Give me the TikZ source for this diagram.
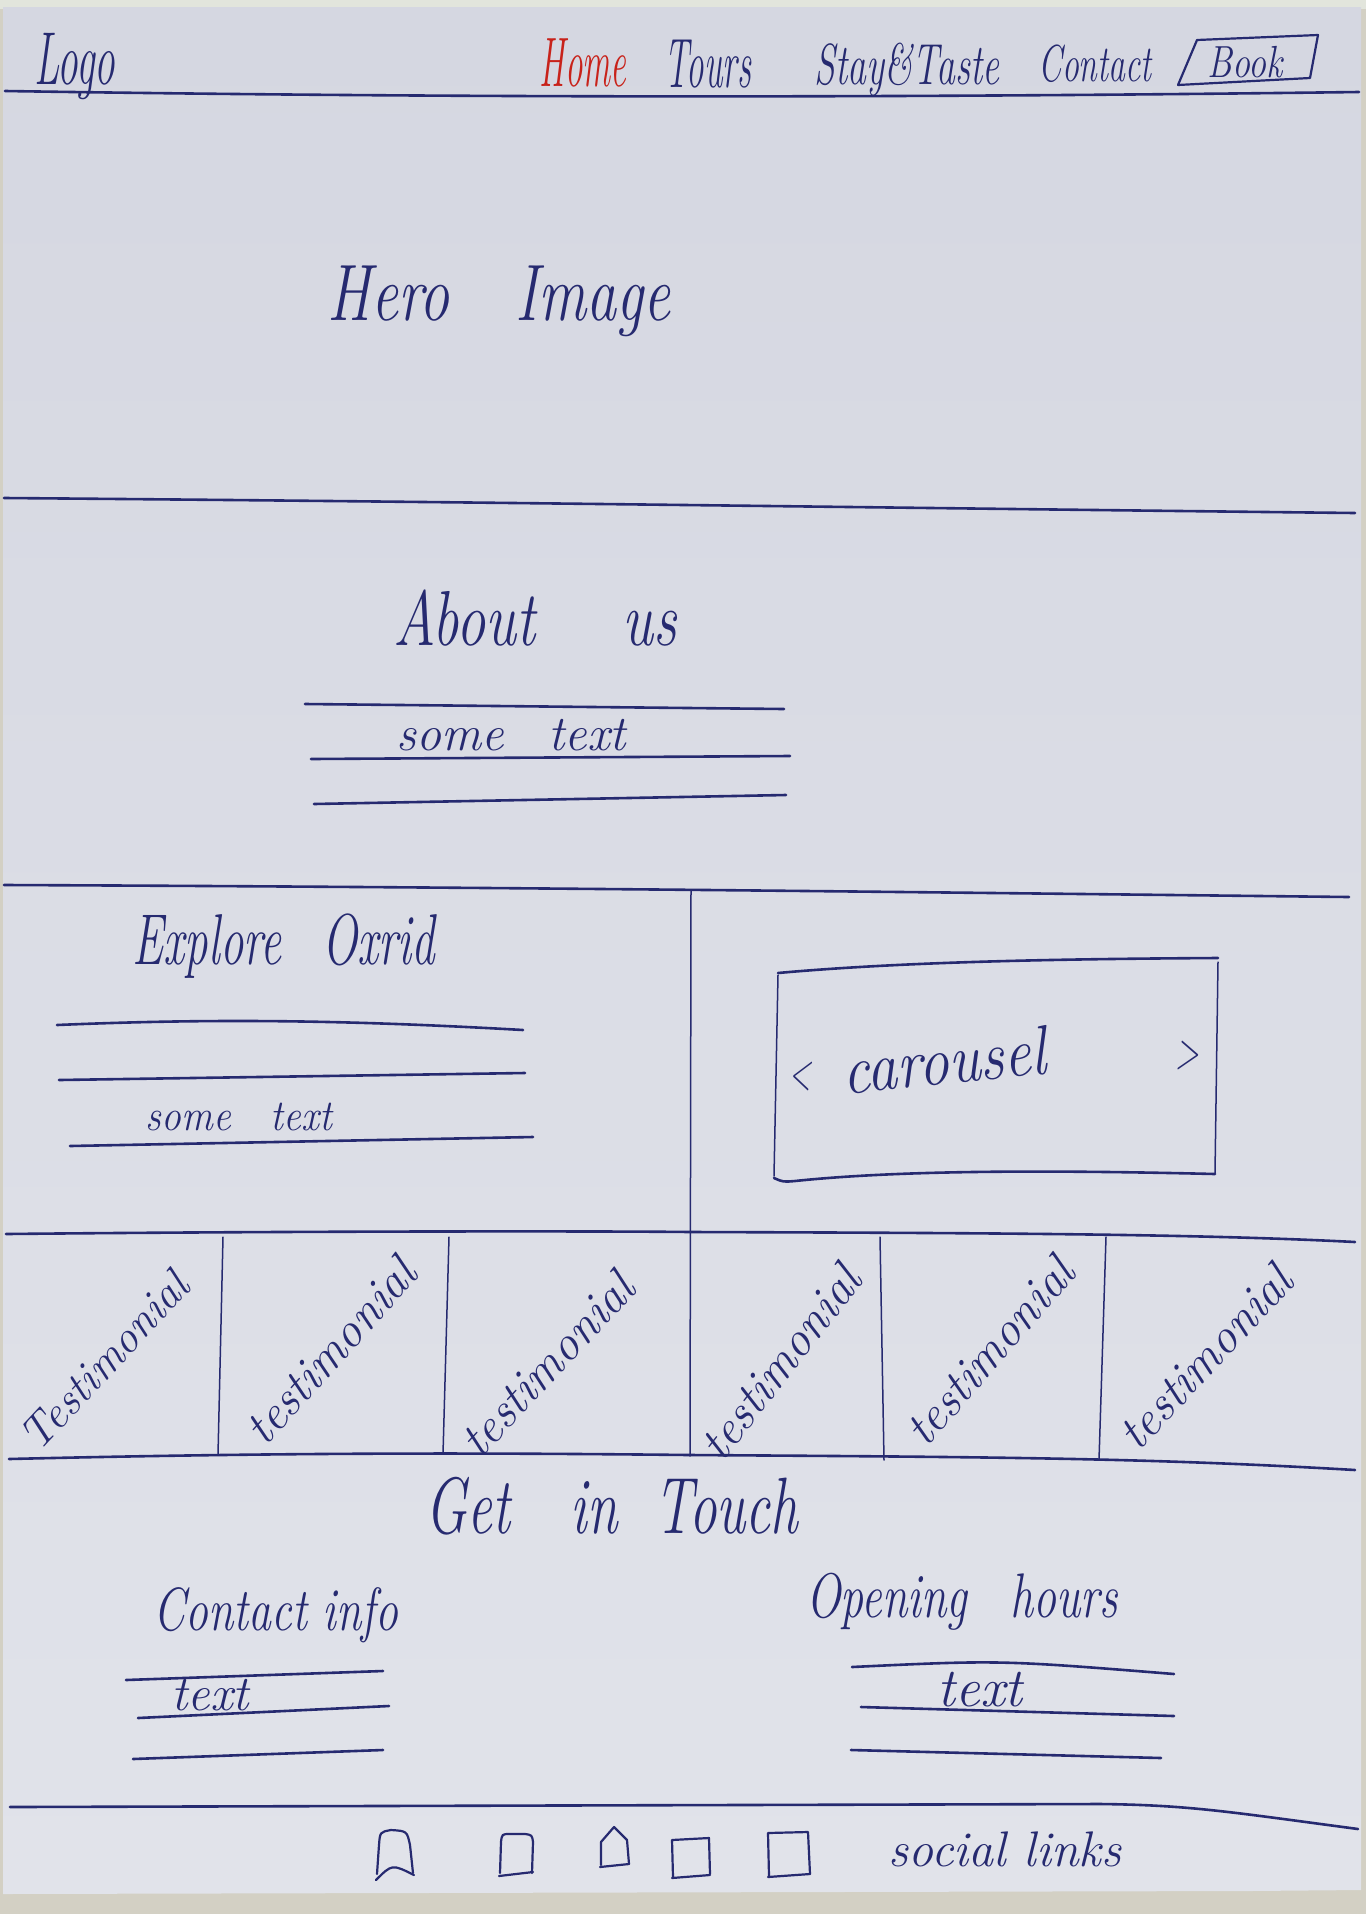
\documentclass[tikz,border=0pt]{standalone}
\usepackage{fontspec}
\definecolor{ink}{RGB}{38,42,112}
\definecolor{navred}{RGB}{200,34,26}
\definecolor{papertop}{RGB}{213,215,225}
\definecolor{paperbot}{RGB}{225,227,234}
\definecolor{tabletop}{RGB}{211,208,196}
\definecolor{wallstrip}{RGB}{226,229,220}
\newcommand\handsize[1]{\fontsize{#1}{#1}\selectfont\itshape}
\tikzset{
  inkline/.style={draw=ink, line width=2.6pt, line cap=round, line join=round},
  divider/.style={draw=ink, line width=1.5pt, line cap=round},
  iconline/.style={draw=ink, line width=2.2pt, line cap=round, line join=round},
  hand/.style={text=ink, inner sep=0pt, anchor=base},
  tilted/.style={text=ink, inner sep=0pt, anchor=center, font=\handsize{49}},
}
\begin{document}
\begin{tikzpicture}[x=1pt,y=-1pt]
\useasboundingbox (0,0) rectangle (1366,1914);
% desk, wall and sheet of paper
\fill[tabletop] (0,0) rectangle (1366,1914);
\fill[wallstrip] (0,0) rectangle (1366,9);
\shade[top color=papertop, bottom color=paperbot] (3,7) -- (1361,7) -- (1361,1890) -- (1250,1891) -- (3,1894) -- cycle;

% ---------- navigation bar ----------
\node[hand, font=\handsize{75}, xscale=0.55] (logo) at (75,84) {Logo};
\node[hand, text=navred, font=\handsize{70}, xscale=0.5] (home) at (583,86) {Home};
\node[hand, font=\handsize{70}, xscale=0.5] (tours) at (708,87) {Tours};
\node[hand, font=\handsize{58}, xscale=0.65] (stay) at (907,84) {Stay\&Taste};
\node[hand, font=\handsize{52}, xscale=0.65] (contact) at (1095,81) {Contact};
\node[hand, font=\handsize{45}, xscale=0.8] (book) at (1245,77) {Book};
\draw[iconline] (1178,85) -- (1197,40) -- (1318,35) -- (1310,78) -- cycle;
\draw[inkline] (5,91) .. controls (450,98) and (900,98) .. (1359,92);

% ---------- hero ----------
\node[hand, font=\handsize{80}, xscale=0.75] (hero) at (499,320) {Hero\hspace{1.1em}Image};
\draw[inkline] (4,498) .. controls (500,502) and (900,508) .. (1355,513);

% ---------- about ----------
\node[hand, font=\handsize{78}, xscale=0.75] (about) at (535,645) {About\hspace{1.5em}us};
\draw[inkline] (305,704) -- (784,709);
\node[hand, font=\handsize{50}] (abouttext) at (511,750) {some\hspace{0.9em}text};
\draw[inkline] (311,759) -- (790,756);
\draw[inkline] (314,804) -- (786,795);
\draw[inkline] (4,885) .. controls (500,887) and (900,892) .. (1349,897);

% ---------- explore + carousel ----------
\draw[divider] (691,890) -- (690,1456);
\node[hand, font=\handsize{72}, xscale=0.65] (explore) at (284,964) {Explore\hspace{0.87em}Oxrid};
\draw[inkline] (57,1025) .. controls (200,1019) and (330,1019) .. (523,1030);
\draw[inkline] (59,1080) -- (525,1073);
\node[hand, font=\handsize{44}, xscale=0.9] (exploretext) at (239,1130) {some\hspace{1em}text};
\draw[inkline] (70,1146) -- (533,1137);

\draw[inkline] (778,973) .. controls (900,962) and (1050,959) .. (1218,958);
\draw[divider] (1218,962) -- (1215,1173);
\draw[inkline] (1215,1174) .. controls (1050,1170) and (900,1170) .. (795,1181) .. controls (783,1182) .. (774,1178);
\draw[divider] (774,1176) -- (778,975);
\node[hand, font=\handsize{70}, xscale=0.86, rotate=5] (carousel) at (946,1084) {carousel};
\node[text=ink, inner sep=0pt, font=\handsize{52}, xscale=0.55] (prev) at (800,1077) {<};
\node[text=ink, inner sep=0pt, font=\handsize{52}, xscale=0.6] (next) at (1187,1056) {>};

% ---------- testimonials ----------
\draw[inkline] (6,1234) .. controls (300,1231) and (600,1231) .. (691,1232) .. controls (1000,1233) and (1200,1234) .. (1355,1242);
\draw[inkline] (9,1459) .. controls (300,1452) and (500,1453) .. (690,1455) .. controls (1000,1457) and (1150,1458) .. (1355,1470);
\draw[divider] (223,1237) -- (218,1455);
\draw[divider] (449,1237) -- (443,1454);
\draw[divider] (880,1237) -- (884,1460);
\draw[divider] (1106,1237) -- (1099,1460);
\node[tilted, font=\handsize{45}, rotate=47] (t1) at (104,1361) {Testimonial};
\node[tilted, rotate=48] (t2) at (330,1351) {testimonial};
\node[tilted, rotate=47] (t3) at (547,1364) {testimonial};
\node[tilted, rotate=52] (t4) at (780,1362) {testimonial};
\node[tilted, rotate=49] (t5) at (989,1351) {testimonial};
\node[tilted, rotate=47] (t6) at (1205,1357) {testimonial};

% ---------- get in touch ----------
\node[hand, font=\handsize{80}, xscale=0.69] (touch) at (612,1533) {Get\hspace{1.1em}in\hspace{0.67em}Touch};
\node[hand, font=\handsize{61}, xscale=0.75] (contactinfo) at (276,1630) {Contact info};
\draw[inkline] (126,1680) -- (383,1671);
\node[hand, font=\handsize{50}] (ctext) at (210,1710) {text};
\draw[inkline] (138,1718) -- (389,1706);
\draw[inkline] (133,1759) -- (383,1750);

\node[hand, font=\handsize{63}, xscale=0.73] (hours) at (962,1617) {Opening\hspace{0.93em}hours};
\draw[inkline] (852,1667) .. controls (1000,1660) .. (1174,1674);
\node[hand, font=\handsize{55}] (htext) at (980,1706) {text};
\draw[inkline] (861,1707) -- (1174,1716);
\draw[inkline] (851,1750) -- (1161,1758);

% ---------- footer ----------
\draw[inkline] (10,1807) -- (1100,1804) .. controls (1190,1805) and (1230,1812) .. (1358,1829);
% social icons
\draw[iconline] (377,1874) -- (379,1845) .. controls (380,1832) .. (391,1830) .. controls (407,1831) .. (410,1845) -- (413,1873);
\draw[iconline] (376,1880) .. controls (392,1864) .. (414,1875);
\draw[iconline] (500,1873) -- (501,1842) .. controls (502,1834) .. (510,1834) -- (525,1834) .. controls (532,1835) .. (533,1842) -- (532,1873);
\draw[iconline] (499,1876) -- (533,1872);
\draw[iconline] (601,1865) -- (601,1842) -- (614,1827) -- (627,1840) -- (629,1864);
\draw[iconline] (600,1867) -- (629,1864);
\draw[iconline] (673,1877) -- (672,1840) -- (709,1838) -- (710,1874);
\draw[iconline] (672,1878) -- (710,1875);
\draw[iconline] (769,1876) -- (768,1833) -- (808,1832) -- (810,1874);
\draw[iconline] (768,1877) -- (810,1874);
\node[hand, font=\handsize{50}] (social) at (1005,1866) {social links};
\end{tikzpicture}
\end{document}
